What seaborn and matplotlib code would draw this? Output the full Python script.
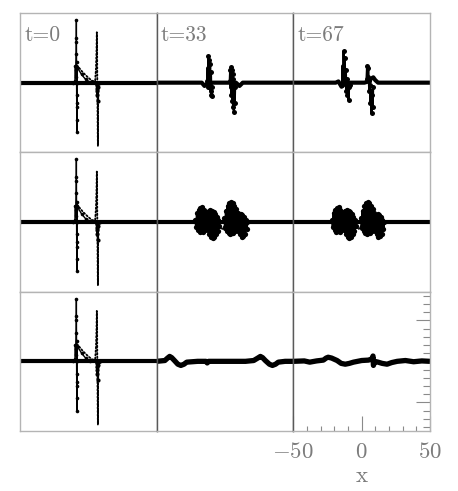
import matplotlib
matplotlib.use("Agg")
import matplotlib.pyplot as plt
import seaborn as sns

# ---------------- data ----------------
time_labels = ["t=0", "t=33", "t=67"]
xtick_vals = [-50, 0, 50]
xtick_labels = ["$-50$", "$0$", "$50$"]
xminor_vals = [-40, -30, -20, -10, 10, 20, 30, 40]
ytick_vals = [-1, 0, 1]
yminor_vals = [-1.6, -1.4, -1.2, -0.8, -0.6, -0.4, -0.2,
               0.2, 0.4, 0.6, 0.8, 1.2, 1.4, 1.6]

# t = 0 (same initial state in every row)
t0_base_x = [-50, 50]
t0_base_y = [0, 0]
t0_solid_x = [-50, -11, -9.8, -9.5, -9.3, -9.1, -8.9, -8.8, -8.75, -8.7, -8.65,
              -8.6, -8.55, -8.5, -8.45, -8.4, -8.35, -8.3, -8.2, -5.0, -2.0, 1.0, 50]
t0_solid_y = [0, 0, 0.05, 0.4, 0.15, 0.3, 0.7, 1.1, 1.53, 1.0, 0.5,
              0.0, -0.3, -0.6, -0.9, -1.2, -0.5, 0.0, 0.38, 0.2, 0.08, 0.02, 0]
t0_dotted_x = [-50, -10, -8.6, -8.2, -4.0, 0.0, 3.0, 5.0, 5.6, 6.0, 6.2, 6.4,
               6.5, 6.6, 6.7, 6.8, 6.9, 7.0, 7.1, 7.3, 8.0, 12, 50]
t0_dotted_y = [0, 0, 0.05, 0.42, 0.25, 0.12, 0.04, 0.05, 0.35, 0.8, 1.23, 0.9,
               0.4, -0.1, -0.5, -0.9, -1.3, -1.55, -0.7, -0.2, -0.05, 0, 0]
t0_smear_x = [5.9, 6.1, 6.3, 6.5, 6.7, 6.9, 7.1]
t0_smear_y = [0.0, -0.15, -0.05, -0.3, -0.2, -0.45, -0.1]

# row 1, t = 33
r0_t33_base_x = [-50, -17, -15, -13, -10, 8, 10.6, 13, 50]
r0_t33_base_y = [0, 0, -0.08, -0.02, 0, 0, -0.08, 0, 0]
r0_t33_p1_x = [-13.0, -12.7, -12.4, -12.1, -11.8, -11.5, -11.2, -10.9, -10.6,
               -10.3, -10.0, -9.7, -9.4]
r0_t33_p1_y = [0.05, 0.35, -0.1, 0.64, 0.1, 0.55, -0.05, 0.45, -0.2, 0.25,
               -0.3, -0.1, -0.32]
r0_t33_p2_x = [3.5, 3.8, 4.1, 4.4, 4.7, 5.0, 5.3, 5.6, 5.9, 6.2, 6.5, 6.8, 7.1, 7.4]
r0_t33_p2_y = [0.05, 0.3, -0.1, 0.38, -0.3, 0.3, -0.45, 0.2, -0.6, 0.1, -0.72,
               0.0, -0.5, -0.1]

# row 1, t = 67
r0_t67_base_x = [-50, -19, -17, -14.7, -12, 2, 5, 7, 8.5, 10, 12, 50]
r0_t67_base_y = [0, 0, 0.03, -0.1, 0, 0, 0.03, 0.1, 0.13, 0.06, 0, 0]
r0_t67_p1_x = [-14.4, -14.0, -13.6, -13.2, -12.8, -12.4, -12.0, -11.6, -11.2,
               -10.8, -10.4, -10.0, -9.6, -9.2, -8.8]
r0_t67_p1_y = [-0.05, 0.4, 0.1, 0.77, 0.2, 0.6, 0.0, 0.3, -0.2, 0.1, -0.3,
               0.0, -0.43, -0.1, -0.05]
r0_t67_p2_x = [3.6, 4.0, 4.4, 4.8, 5.2, 5.6, 6.0, 6.4, 6.8, 7.2, 7.6, 8.0, 8.4]
r0_t67_p2_y = [0.1, 0.41, 0.15, 0.35, 0.05, -0.2, -0.05, -0.5, -0.2, -0.75,
               -0.3, -0.6, -0.1]

# row 2, t = 33 and t = 67 (same packets)
r1_base_x = [-50, 50]
r1_base_y = [0, 0]
r1_p1_x = [-21.6, -21.0, -20.4, -19.8, -19.2, -18.6, -18.0, -17.4, -16.8, -16.2,
           -15.6, -15.0, -14.4, -13.8, -13.2, -12.6, -12.0, -11.4, -10.8, -10.2,
           -9.6, -9.0, -8.4, -7.8, -7.2, -6.6, -6.0, -5.4, -4.8, -4.2]
r1_p1_y = [0.05, -0.12, 0.22, -0.2, 0.3, -0.25, 0.34, -0.22, 0.36, -0.24,
           0.3, -0.2, 0.24, -0.12, 0.18, -0.2, 0.28, -0.3, 0.3, -0.36,
           0.26, -0.39, 0.24, -0.36, 0.2, -0.3, 0.12, -0.22, 0.06, -0.1]
r1_p2_x = [-0.4, 0.2, 0.8, 1.4, 2.0, 2.6, 3.2, 3.8, 4.4, 5.0, 5.6, 6.2, 6.8,
           7.4, 8.0, 8.6, 9.2, 9.8, 10.4, 11.0, 11.6, 12.2, 12.8, 13.4, 14.0,
           14.6, 15.2, 15.8, 16.4]
r1_p2_y = [0.1, -0.15, 0.28, -0.22, 0.4, -0.28, 0.46, -0.3, 0.48, -0.28, 0.46,
           -0.26, 0.4, -0.22, 0.32, -0.18, 0.22, -0.22, 0.16, -0.3, 0.2, -0.36,
           0.16, -0.34, 0.12, -0.3, 0.06, -0.16, 0.0]
r1_link_x = [-4.2, -2.0, -0.4]
r1_link_y = [-0.1, -0.18, -0.08]

# row 3, t = 33
r2_t33_x = [-50, -44, -42, -40.5, -39, -37, -34.5, -32.3, -30, -28, -20, -14,
            -13, -12, 0, 15, 21, 24, 25.9, 27.5, 29.5, 32.5, 34.7, 37, 39, 44, 50]
r2_t33_y = [0, 0.02, 0.08, 0.12, 0.09, 0.02, -0.07, -0.1, -0.07, -0.02, 0, 0,
            -0.04, 0, 0, 0, 0.02, 0.08, 0.12, 0.09, 0.02, -0.07, -0.1, -0.07,
            -0.02, 0, 0]
# row 3, t = 67
r2_t67_x = [-50, -42, -38, -33, -28, -26, -24.5, -22, -18, -15, -12, -9, -6,
            0, 5, 7.5, 8.3, 8.6, 9.5, 12, 15, 18.6, 22, 26, 32, 38, 44, 50]
r2_t67_y = [0, 0.01, -0.02, 0.01, 0.03, 0.08, 0.1, 0.08, 0.02, -0.05, -0.07,
            -0.05, -0.02, 0.02, 0.03, 0.06, 0.13, -0.1, 0.0, -0.02, -0.05,
            -0.07, -0.03, 0, 0.02, -0.01, 0.01, 0]

# ---------------- layout / style ----------------
sns.set_theme(style="white")
plt.rcParams["mathtext.fontset"] = "cm"
plt.rcParams["font.family"] = ["cmr10", "DejaVu Serif"]

TEXT_GRAY = "#7c7c7c"
LIGHT = "#b4b4b4"
DARK = "#5a5a5a"

fig, axes = plt.subplots(3, 3, figsize=(4.58, 4.91), dpi=100)
fig.subplots_adjust(left=20 / 458, right=430 / 458, top=1 - 13 / 491,
                    bottom=1 - 431 / 491, wspace=0, hspace=0)


def thick(ax, x, y, lw=3.0):
    sns.lineplot(x=x, y=y, ax=ax, sort=False, estimator=None, color="black",
                 linewidth=lw, solid_capstyle="butt", solid_joinstyle="round")


def wave(ax, x, y, lw=1.0, ms=2.6):
    sns.lineplot(x=x, y=y, ax=ax, sort=False, estimator=None, color="black",
                 linewidth=lw, marker="o", markersize=ms, markeredgewidth=0)


def dotted(ax, x, y):
    sns.lineplot(x=x, y=y, ax=ax, sort=False, estimator=None, color="black",
                 linewidth=1.3, linestyle=(0, (0.8, 1.2)), dash_capstyle="round")


for r in range(3):
    ax = axes[r, 0]
    thick(ax, t0_base_x, t0_base_y)
    wave(ax, t0_solid_x, t0_solid_y)
    dotted(ax, t0_dotted_x, t0_dotted_y)
    wave(ax, t0_smear_x, t0_smear_y, lw=1.2, ms=3.0)

thick(axes[0, 1], r0_t33_base_x, r0_t33_base_y)
wave(axes[0, 1], r0_t33_p1_x, r0_t33_p1_y, lw=1.6, ms=3.6)
wave(axes[0, 1], r0_t33_p2_x, r0_t33_p2_y, lw=1.6, ms=3.6)
thick(axes[0, 2], r0_t67_base_x, r0_t67_base_y)
wave(axes[0, 2], r0_t67_p1_x, r0_t67_p1_y, lw=1.6, ms=3.6)
wave(axes[0, 2], r0_t67_p2_x, r0_t67_p2_y, lw=1.6, ms=3.6)

for c in (1, 2):
    thick(axes[1, c], r1_base_x, r1_base_y)
    wave(axes[1, c], r1_p1_x, r1_p1_y, lw=1.8, ms=3.8)
    wave(axes[1, c], r1_p2_x, r1_p2_y, lw=1.8, ms=3.8)
    sns.lineplot(x=r1_link_x, y=r1_link_y, ax=axes[1, c], sort=False,
                 estimator=None, color="black", linewidth=0.8)

thick(axes[2, 1], r2_t33_x, r2_t33_y, lw=3.8)
thick(axes[2, 2], r2_t67_x, r2_t67_y, lw=3.8)

for r in range(3):
    for c in range(3):
        ax = axes[r, c]
        ax.set_xlim(-50, 50)
        ax.set_ylim(-1.7, 1.7)
        ax.set_xticks([])
        ax.set_yticks([])
        ax.set_xlabel("")
        ax.set_ylabel("")
        ax.set_facecolor("white")
        for side in ("top", "bottom"):
            ax.spines[side].set_color(LIGHT)
            ax.spines[side].set_linewidth(1.0)
        ax.spines["left"].set_color(DARK if c > 0 else LIGHT)
        ax.spines["right"].set_color(DARK if c < 2 else LIGHT)
        ax.spines["left"].set_linewidth(1.0)
        ax.spines["right"].set_linewidth(1.0)

for c in range(3):
    axes[0, c].text(0.03, 0.80, time_labels[c], transform=axes[0, c].transAxes,
                    ha="left", va="baseline", fontsize=15.5, color=TEXT_GRAY,
                    family=["cmr10", "DejaVu Serif"])

# ticks only on the bottom-right panel
ax = axes[2, 2]
ax.set_xticks(xtick_vals)
ax.set_xticklabels(xtick_labels)
ax.set_xticks(xminor_vals, minor=True)
ax.yaxis.tick_right()
ax.set_yticks(ytick_vals)
ax.set_yticklabels([])
ax.set_yticks(yminor_vals, minor=True)
ax.tick_params(axis="x", which="major", direction="in", length=10.5, width=0.8,
               color="#8a8a8a", labelsize=16.5, labelcolor=TEXT_GRAY, pad=8,
               bottom=True, top=False)
ax.tick_params(axis="x", which="minor", direction="in", length=3.8, width=0.8,
               color="#8a8a8a", bottom=True, top=False)
ax.tick_params(axis="y", which="major", direction="in", length=10, width=0.8,
               color="#8a8a8a", right=True, left=False)
ax.tick_params(axis="y", which="minor", direction="in", length=5, width=0.8,
               color="#8a8a8a", right=True, left=False)
ax.set_xlabel("x", fontsize=16.5, color=TEXT_GRAY, labelpad=3,
              family=["cmr10", "DejaVu Serif"])

fig.savefig("out.png", dpi=100, facecolor="white")
